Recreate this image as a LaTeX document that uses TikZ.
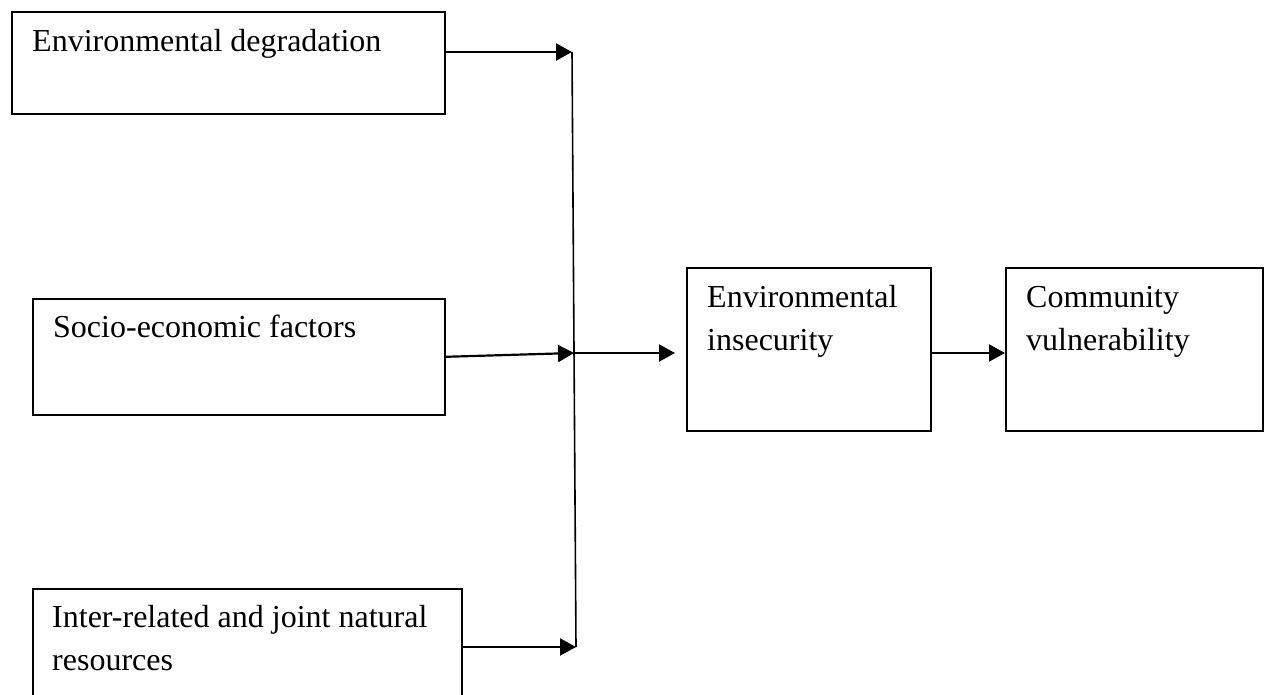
\documentclass[tikz,border=0pt]{standalone}
\usepackage{fontspec}
\setmainfont{Liberation Serif}
\usetikzlibrary{arrows.meta,calc}
\tikzset{
  box/.style={draw=black, line width=1.6pt, rectangle, inner sep=0pt, anchor=north west},
  txt/.style={anchor=base west, inner sep=0pt, font=\fontsize{32}{43}\selectfont, align=left},
  arr/.style={line width=2.2pt, -{Triangle[length=16pt,width=17pt]}},
  trunk/.style={line width=1.6pt}
}
\begin{document}
\begin{tikzpicture}[x=1pt,y=-1pt]
\useasboundingbox (0,0) rectangle (1264,694);
\clip (0,0) rectangle (1264,694);
% boxes
\node[box, minimum width=433pt, minimum height=102pt] (b1) at (11,11) {};
\node[box, minimum width=412pt, minimum height=116pt] (b2) at (32,298) {};
\node[box, minimum width=429pt, minimum height=130pt] (b3) at (32,588) {};
\node[box, minimum width=244pt, minimum height=163pt] (b4) at (686,267) {};
\node[box, minimum width=257pt, minimum height=163pt] (b5) at (1005,267) {};
% texts (base anchor = baseline of last line)
\node[txt] (t1) at ($(b1.north west)+(21,40)$) {Environmental degradation};
\node[txt] (t2) at ($(b2.north west)+(21,39)$) {Socio-economic factors};
\node[txt] (t3) at ($(b3.north west)+(20,82)$) {Inter-related and joint natural\\resources};
\node[txt] (t4) at ($(b4.north west)+(21,83)$) {Environmental\\insecurity};
\node[txt] (t5) at ($(b5.north west)+(21,83)$) {Community\\vulnerability};
% junction points
\coordinate (j1) at (572,52);
\coordinate (j2) at (574,353);
\coordinate (j3) at (576,647);
\draw[trunk] (j1) -- (j3);
\draw[arr] (b1.east |- j1) -- (j1);
\draw[arr] (b2.east) -- (j2);
\draw[arr] (b3.east |- j3) -- (j3);
\draw[arr, shorten >=11pt] (j2) -- (b4.west |- j2);
\draw[arr] (b4.east |- j2) -- (b5.west |- j2);
\end{tikzpicture}
\end{document}
